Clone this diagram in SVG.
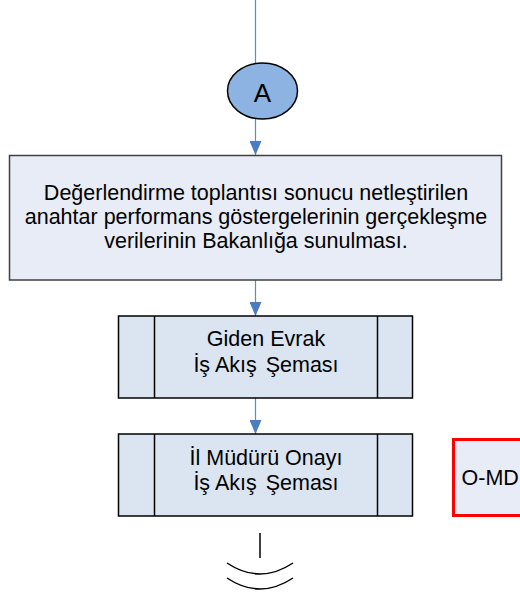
<svg xmlns="http://www.w3.org/2000/svg" width="520" height="596" viewBox="0 0 520 596">
<defs>
<marker id="arr" viewBox="0 0 14 12" refX="14" refY="6" markerWidth="14" markerHeight="12" markerUnits="userSpaceOnUse" orient="auto">
<path d="M0,0 L14,6 L0,12 Z" fill="#4a7cc4"/>
</marker>
<style>
text{font-family:"Liberation Sans",Arial,sans-serif;font-size:21.5px;fill:#000;}
.c{text-anchor:middle;}
.conn{stroke:#5b8bd0;stroke-width:1.2;fill:none;}
.pp{fill:#dbe5f1;stroke:#000;stroke-width:1.5;}
.bx{fill:#e8ecf7;stroke:#404040;stroke-width:1.5;}
</style>
</defs>
<g id="connectors">
<line class="conn" x1="255.5" y1="0" x2="255.5" y2="63"/>
<line class="conn" x1="255.5" y1="119" x2="255.5" y2="155" marker-end="url(#arr)" stroke="#8fb0e0"/>
<line class="conn" x1="255.5" y1="280" x2="255.5" y2="316" marker-end="url(#arr)" stroke="#8fb0e0"/>
<line class="conn" x1="255.5" y1="398" x2="255.5" y2="434" marker-end="url(#arr)" stroke="#8fb0e0"/>
</g>
<g id="nodeA">
<ellipse cx="262.5" cy="91" rx="35" ry="28" fill="#8db3e2" stroke="#000" stroke-width="1.5"/>
<text class="c" x="262.5" y="102" style="font-size:26px">A</text>
</g>
<g id="node-degerlendirme">
<rect class="bx" x="9.5" y="155.5" width="492" height="124.5"/>
<text class="c" x="256" y="200">Değerlendirme toplantısı sonucu netleştirilen</text>
<text class="c" x="256" y="224">anahtar performans göstergelerinin gerçekleşme</text>
<text class="c" x="256" y="248">verilerinin Bakanlığa sunulması.</text>
</g>
<g id="node-giden">
<rect class="pp" x="118.5" y="316" width="294" height="82"/>
<line x1="154.5" y1="316" x2="154.5" y2="398" stroke="#000" stroke-width="1.5"/>
<line x1="377.5" y1="316" x2="377.5" y2="398" stroke="#000" stroke-width="1.5"/>
<text class="c" x="266" y="346">Giden Evrak</text>
<text class="c" x="266" y="372">İş Akış <tspan dx="3">Şeması</tspan></text>
</g>
<g id="node-ilmudur">
<rect class="pp" x="118.5" y="434" width="294" height="82"/>
<line x1="154.5" y1="434" x2="154.5" y2="516" stroke="#000" stroke-width="1.5"/>
<line x1="377.5" y1="434" x2="377.5" y2="516" stroke="#000" stroke-width="1.5"/>
<text class="c" x="266" y="465">İl Müdürü Onayı</text>
<text class="c" x="266" y="490">İş Akış <tspan dx="3">Şeması</tspan></text>
</g>
<g id="node-omd">
<rect x="453.5" y="439.5" width="80" height="76" fill="#e8ecf7" stroke="#ff0000" stroke-width="3"/>
<text x="461.5" y="485">O-MD</text>
</g>
<g id="node-end">
<line x1="260" y1="533" x2="260" y2="558" stroke="#000" stroke-width="1.5"/>
<path d="M227,563 Q260,585 293,563" fill="none" stroke="#000" stroke-width="1.5"/>
<path d="M227,578 Q260,600 293,578" fill="none" stroke="#000" stroke-width="1.5"/>
</g>
</svg>
